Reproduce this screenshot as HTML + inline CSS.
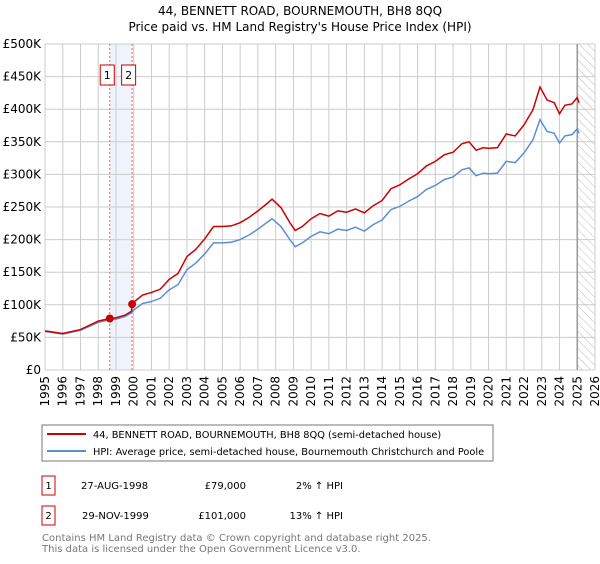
<!DOCTYPE html>
<html><head><meta charset="utf-8"><style>
body{margin:0;background:#fff;font-family:"DejaVu Sans","Liberation Sans",sans-serif}
svg text{font-family:"DejaVu Sans","Liberation Sans",sans-serif}
</style></head><body>
<svg id="c" width="600" height="560" xmlns="http://www.w3.org/2000/svg">
<defs><pattern id="hatch" width="6" height="6" patternUnits="userSpaceOnUse" patternTransform="rotate(-45)"><line x1="0" y1="0" x2="0" y2="6" stroke="#bbb" stroke-width="1"/></pattern></defs>
<text x="300" y="15" text-anchor="middle" font-size="12">44, BENNETT ROAD, BOURNEMOUTH, BH8 8QQ</text>
<text x="300" y="31" text-anchor="middle" font-size="12">Price paid vs. HM Land Registry's House Price Index (HPI)</text>
<g id="grid"></g><g id="marks"></g><g id="axes"></g>
<rect x="42" y="425" width="451" height="36" fill="#fff" stroke="#777"/>
<line x1="47" y1="434" x2="86" y2="434" stroke="#cc0000" stroke-width="2"/>
<text x="93" y="438" font-size="9.8">44, BENNETT ROAD, BOURNEMOUTH, BH8 8QQ (semi-detached house)</text>
<line x1="47" y1="451" x2="86" y2="451" stroke="#5b8fd4" stroke-width="2"/>
<text x="93" y="455" font-size="9.8">HPI: Average price, semi-detached house, Bournemouth Christchurch and Poole</text>
<g font-size="10">
<rect x="42" y="476" width="13" height="19" fill="#fff" stroke="#cc0000"/>
<text x="48.5" y="489" text-anchor="middle">1</text>
<text x="81" y="489">27-AUG-1998</text><text x="246" y="489" text-anchor="end">£79,000</text><text x="343" y="489" text-anchor="end">2% ↑ HPI</text>
<rect x="42" y="506" width="13" height="19" fill="#fff" stroke="#cc0000"/>
<text x="48.5" y="519" text-anchor="middle">2</text>
<text x="82" y="519">29-NOV-1999</text><text x="246" y="519" text-anchor="end">£101,000</text><text x="343" y="519" text-anchor="end">13% ↑ HPI</text>
</g>
<text x="42" y="541" font-size="10" fill="#777">Contains HM Land Registry data © Crown copyright and database right 2025.</text>
<text x="42" y="552" font-size="10" fill="#777">This data is licensed under the Open Government Licence v3.0.</text>
</svg>
<script>
const hpiYears=[1995,1996,1997,1998,1998.65,1999,1999.5,1999.88,2000,2000.5,2001,2001.5,2002,2002.5,2003,2003.5,2004,2004.5,2005,2005.5,2006,2006.5,2007,2007.5,2007.8,2008.3,2008.8,2009.1,2009.5,2010,2010.5,2011,2011.5,2012,2012.5,2013,2013.5,2014,2014.5,2015,2015.5,2016,2016.5,2017,2017.5,2018,2018.5,2018.9,2019.3,2019.7,2020,2020.5,2021,2021.5,2022,2022.5,2022.9,2023.3,2023.7,2024,2024.3,2024.7,2025,2025.1];
const hpiValues=[59,55,61,73,77,78,82,88,92,102,105,110,123,131,154,164,178,195,195,196,200,207,216,226,232,220,200,189,195,205,212,209,216,214,219,213,223,230,246,251,259,266,277,283,292,296,307,310,298,302,301,302,320,318,333,353,384,366,363,348,359,361,370,363];
const priceYears=[1995,1996,1997,1998,1998.65,1999,1999.5,1999.88,1999.91,2000,2000.5,2001,2001.5,2002,2002.5,2003,2003.5,2004,2004.5,2005,2005.5,2006,2006.5,2007,2007.5,2007.8,2008.3,2008.8,2009.1,2009.5,2010,2010.5,2011,2011.5,2012,2012.5,2013,2013.5,2014,2014.5,2015,2015.5,2016,2016.5,2017,2017.5,2018,2018.5,2018.9,2019.3,2019.7,2020,2020.5,2021,2021.5,2022,2022.5,2022.9,2023.3,2023.7,2024,2024.3,2024.7,2025,2025.1];
const priceValues=[60,56,62,75,79,80,84,90,101,104,115,119,124,139,148,174,185,201,220,220,221,226,234,244,255,262,249,226,214,220,232,240,236,244,242,247,241,252,260,278,284,293,301,313,320,330,334,347,350,337,341,340,341,362,359,376,399,434,414,410,393,406,408,418,410];
const saleYears=[1998.65,1999.91];
const saleValues=[79,101];
const saleLabels=["1","2"];
const yTicks=[0,50,100,150,200,250,300,350,400,450,500];
const yTickLabels=["£0","£50K","£100K","£150K","£200K","£250K","£300K","£350K","£400K","£450K","£500K"];
const xTicks=[1995,1996,1997,1998,1999,2000,2001,2002,2003,2004,2005,2006,2007,2008,2009,2010,2011,2012,2013,2014,2015,2016,2017,2018,2019,2020,2021,2022,2023,2024,2025,2026];
const dataEnd=2025.0;
const NS="http://www.w3.org/2000/svg";
const L=45,R=595,T=44,B=370;
const xs=y=>L+(y-1995)/31*(R-L);
const ys=v=>B-v/500*(B-T);
function mk(t,a,p){const e=document.createElementNS(NS,t);for(const k in a)e.setAttribute(k,a[k]);p.appendChild(e);return e;}
const grid=document.getElementById('grid'),marks=document.getElementById('marks'),axes=document.getElementById('axes');
const shade=mk('rect',{x:xs(saleYears[0]),y:T,width:xs(saleYears[1])-xs(saleYears[0]),height:B-T,fill:'#eef3fc'},grid);


const hat=mk('rect',{x:xs(dataEnd),y:T,width:R-xs(dataEnd),height:B-T,fill:'url(#hatch)'},grid);


yTicks.forEach((v,i)=>{
 const g=mk('line',{x1:L,x2:R,y1:ys(v),y2:ys(v),stroke:'#ccc'},grid);
 
 
 const t=mk('text',{x:L-4,y:ys(v)+4,'text-anchor':'end','font-size':'12'},axes);t.textContent=yTickLabels[i];
 
 
});
xTicks.forEach(y=>{
 const g=mk('line',{x1:xs(y),x2:xs(y),y1:T,y2:B,stroke:'#ccc'},grid);
 
 
 const t=mk('text',{x:0,y:0,'text-anchor':'end','font-size':'12',transform:`translate(${xs(y)+4},${B+6}) rotate(-90)`},axes);t.textContent=y;
 
 
});
const endLine=mk('line',{x1:xs(dataEnd),x2:xs(dataEnd),y1:T,y2:B,stroke:'#999','stroke-width':1.5},grid);


saleYears.forEach((y,i)=>{
 const v=mk('line',{x1:xs(y),x2:xs(y),y1:T,y2:B,stroke:'#f06060','stroke-dasharray':'2,2'},grid);
 
 
});
const hp=mk('polyline',{points:hpiYears.map((y,i)=>xs(y)+','+ys(hpiValues[i])).join(' '),fill:'none',stroke:'#5b8fd4','stroke-width':1.5},marks);


const pp=mk('polyline',{points:priceYears.map((y,i)=>xs(y)+','+ys(priceValues[i])).join(' '),fill:'none',stroke:'#cc0000','stroke-width':1.5},marks);


saleYears.forEach((y,i)=>{
 const c=mk('circle',{cx:xs(y),cy:ys(saleValues[i]),r:4,fill:'#cc0000'},marks);
 
 
 const cx=xs(y)-(i==0?2.5:3.5);
 const b=mk('rect',{x:cx-7,y:65,width:14,height:20,fill:'#fff',stroke:'#cc0000'},marks);
 
 
 const t=mk('text',{x:cx,y:79,'text-anchor':'middle','font-size':'11'},marks);t.textContent=saleLabels[i];
 
 
});
</script>
</body></html>
